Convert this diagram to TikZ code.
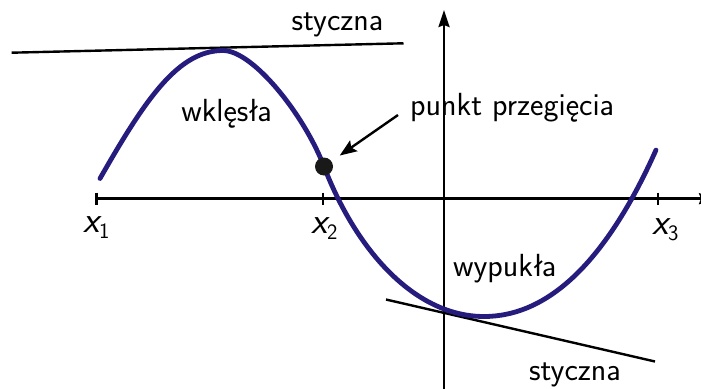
\documentclass[tikz,border=0pt]{standalone}
\usepackage{tikz}
\usetikzlibrary{positioning,arrows.meta}
\definecolor{curveblue}{RGB}{38,28,125}
\newcommand{\xsub}[1]{\raisebox{-6pt}{\fontsize{22}{22}\selectfont\upshape #1}}

\begin{document}
\begin{tikzpicture}[
    x=1pt, y=-1pt,
    axisline/.style={line width=2.6pt, -{Stealth[length=17pt,width=11pt,inset=2pt]}},
    tickmark/.style={line width=2.4pt},
    tline/.style={line width=2.4pt},
    fcurve/.style={line width=4.8pt, curveblue, line cap=round},
    dot/.style={circle, fill=black!90, minimum size=18pt, inner sep=0pt},
    txt/.style={font=\fontsize{32}{35}\selectfont\sffamily, inner sep=0pt},
    xlab/.style={font=\fontsize{37}{40}\selectfont\sffamily\slshape, inner sep=0pt, anchor=base west},
    pointer/.style={line width=2.4pt, -{Stealth[length=17pt,width=13pt,inset=3pt]}, shorten >=10pt}
]
\useasboundingbox (0,0) rectangle (701,388);

\coordinate (xa) at (96.6,198.7);
\coordinate (xb) at (716,198.7);
\coordinate (ya) at (444,392);
\coordinate (yb) at (444,10);
\draw[axisline] (xa) -- (xb);
\draw[axisline] (ya) -- (yb);

\foreach \n/\x in {1/96.6, 2/323, 3/658}
    \draw[tickmark] (\x,192.5) -- (\x,205);

\node[xlab] (x1) at (83,232) {x\xsub{1}};
\node[xlab] (x2) at (311,233) {x\xsub{2}};
\node[xlab] (x3) at (652,234) {x\xsub{3}};

\coordinate (ta) at (11.7,52.7);
\coordinate (tb) at (403.5,43.3);
\coordinate (tc) at (386,299.5);
\coordinate (td) at (655,361.5);
\draw[tline] (ta) -- (tb);
\draw[tline] (tc) -- (td);

\draw[fcurve] (100,178.5) .. controls (145,99.75) and (178,50.5) .. (223,50.5)
    .. controls (253,50.5) and (304,114.5) .. (324,166.5)
    .. controls (357,252.3) and (416,316.5) .. (484,316.5)
    .. controls (548,316.5) and (606,262) .. (656,150);

\node[dot] (ip) at (324,166.5) {};

\node[txt, anchor=base] (st1) at (337.5,30) {styczna};
\node[txt, anchor=base] (wk) at (226.5,121.7) {wklęsła};
\node[txt, anchor=base west] (pp) at (410,115) {punkt przegięcia};
\node[txt, anchor=base] (wy) at (504.7,276) {wypukła};
\node[txt, anchor=base] (st2) at (575,380) {styczna};

\draw[pointer] ([xshift=-12pt]pp.base west) -- (ip);

\end{tikzpicture}
\end{document}
